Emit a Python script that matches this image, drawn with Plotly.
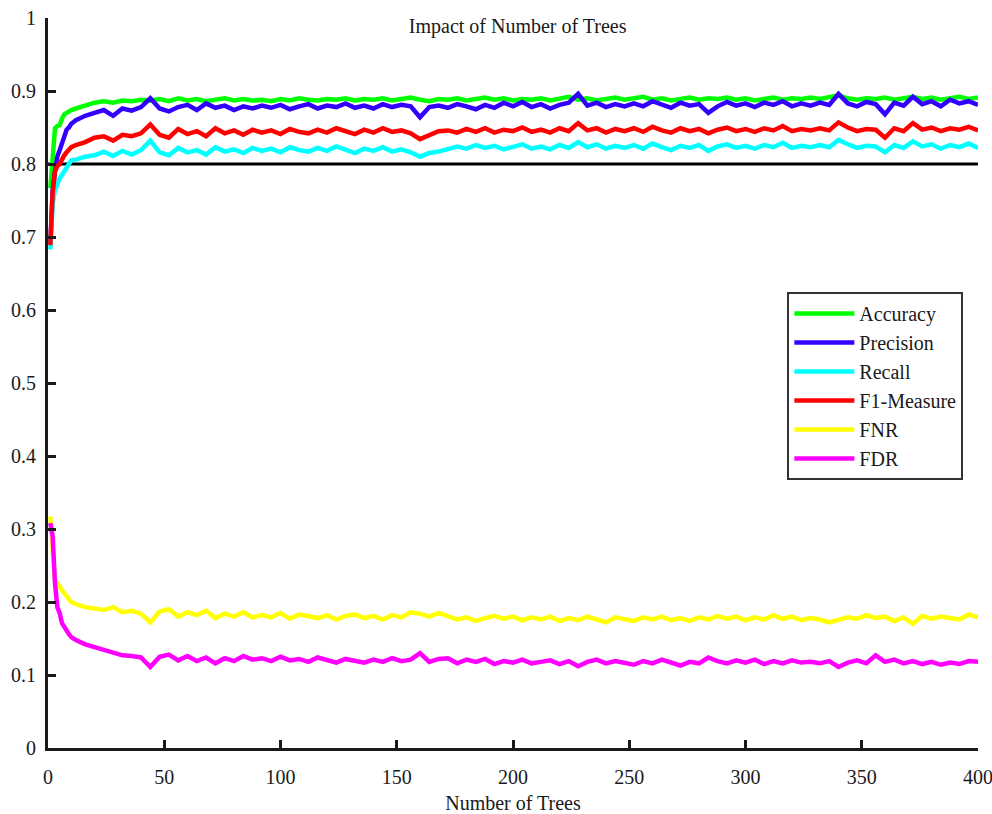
import plotly.graph_objects as go

# Number of trees (sample positions)
trees = [1, 2, 3, 4, 5, 6, 7, 8, 9, 10] + list(range(12, 401, 4))

accuracy = [
    0.767, 0.800, 0.849, 0.852, 0.853, 0.862, 0.868, 0.870, 0.872, 0.874,
    0.876, 0.880, 0.884, 0.886, 0.884, 0.887, 0.886, 0.888, 0.887, 0.889,
    0.886, 0.890, 0.887, 0.889, 0.886, 0.888, 0.890, 0.887, 0.889, 0.887,
    0.888, 0.886, 0.889, 0.887, 0.890, 0.888, 0.887, 0.889, 0.888, 0.890,
    0.887, 0.889, 0.888, 0.890, 0.887, 0.889, 0.891, 0.888, 0.886, 0.889,
    0.888, 0.890, 0.887, 0.889, 0.891, 0.888, 0.890, 0.887, 0.889, 0.888,
    0.890, 0.887, 0.889, 0.892, 0.888, 0.890, 0.887, 0.889, 0.891, 0.888,
    0.890, 0.892, 0.888, 0.890, 0.887, 0.889, 0.891, 0.888, 0.890, 0.889,
    0.891, 0.888, 0.890, 0.887, 0.889, 0.891, 0.888, 0.890, 0.889, 0.891,
    0.889, 0.891, 0.894, 0.890, 0.888, 0.890, 0.889, 0.891, 0.888, 0.890,
    0.892, 0.889, 0.891, 0.888, 0.890, 0.892, 0.889, 0.891,
]

precision = [
    0.690, 0.764, 0.790, 0.810, 0.819, 0.830, 0.838, 0.847, 0.850, 0.855,
    0.860, 0.866, 0.870, 0.874, 0.866, 0.876, 0.873, 0.878, 0.890, 0.876,
    0.872, 0.878, 0.881, 0.874, 0.883, 0.877, 0.880, 0.874, 0.879, 0.876,
    0.880, 0.877, 0.881, 0.875, 0.879, 0.882, 0.876, 0.880, 0.878, 0.883,
    0.877, 0.880, 0.876, 0.882, 0.878, 0.881, 0.879, 0.864, 0.878, 0.880,
    0.877, 0.882, 0.879, 0.875, 0.881, 0.877, 0.884, 0.879, 0.885, 0.878,
    0.882, 0.876, 0.881, 0.884, 0.896, 0.880, 0.884, 0.878, 0.882, 0.879,
    0.883, 0.879, 0.886, 0.881, 0.877, 0.884, 0.880, 0.882, 0.870, 0.879,
    0.885, 0.880, 0.883, 0.878, 0.884, 0.881, 0.886, 0.879, 0.883, 0.880,
    0.884, 0.881, 0.896, 0.883, 0.879, 0.885, 0.882, 0.868, 0.884, 0.880,
    0.892, 0.882, 0.886, 0.879, 0.888, 0.883, 0.886, 0.881,
]

recall = [
    0.683, 0.745, 0.765, 0.774, 0.780, 0.785, 0.790, 0.795, 0.800, 0.805,
    0.806, 0.810, 0.812, 0.817, 0.811, 0.818, 0.813, 0.819, 0.832, 0.816,
    0.812, 0.822, 0.816, 0.819, 0.813, 0.823, 0.817, 0.820, 0.815, 0.822,
    0.818, 0.821, 0.816, 0.823, 0.819, 0.817, 0.822, 0.818, 0.824, 0.819,
    0.815, 0.821, 0.818, 0.823, 0.817, 0.820, 0.816, 0.810, 0.815, 0.817,
    0.820, 0.824, 0.821, 0.826, 0.822, 0.825, 0.820, 0.823, 0.827, 0.821,
    0.824, 0.820, 0.826, 0.822, 0.830, 0.823, 0.827, 0.821, 0.825, 0.822,
    0.826, 0.821, 0.828, 0.823, 0.819, 0.825, 0.822, 0.826, 0.818, 0.824,
    0.827, 0.822, 0.825, 0.821, 0.826, 0.823, 0.829, 0.822, 0.825, 0.823,
    0.826, 0.823, 0.833, 0.827, 0.822, 0.825, 0.824, 0.816, 0.826, 0.822,
    0.831, 0.824, 0.827, 0.821, 0.826, 0.823, 0.828, 0.822,
]

f1_measure = [
    0.689, 0.760, 0.790, 0.797, 0.800, 0.808, 0.812, 0.816, 0.820, 0.823,
    0.826, 0.830, 0.836, 0.838, 0.832, 0.840, 0.838, 0.842, 0.854, 0.840,
    0.836, 0.848, 0.841, 0.845, 0.838, 0.849, 0.842, 0.846, 0.840, 0.847,
    0.843, 0.846, 0.841, 0.848, 0.844, 0.842, 0.847, 0.843, 0.849, 0.845,
    0.841, 0.847, 0.843, 0.849, 0.844, 0.846, 0.842, 0.834, 0.840, 0.845,
    0.846, 0.843, 0.848, 0.844, 0.849, 0.843, 0.847, 0.845, 0.850, 0.844,
    0.847, 0.843, 0.849, 0.845, 0.856, 0.846, 0.849, 0.843, 0.848, 0.845,
    0.849, 0.844, 0.851, 0.846, 0.843, 0.849, 0.845, 0.848, 0.842, 0.847,
    0.850, 0.845, 0.848, 0.844, 0.849, 0.846, 0.852, 0.845, 0.848, 0.846,
    0.849, 0.846, 0.857, 0.850, 0.845, 0.848, 0.847, 0.836, 0.849, 0.845,
    0.856, 0.847, 0.850, 0.845, 0.849, 0.847, 0.851, 0.846,
]

fnr = [
    0.317, 0.260, 0.230, 0.225, 0.222, 0.216, 0.212, 0.208, 0.204, 0.200,
    0.197, 0.193, 0.191, 0.189, 0.193, 0.186, 0.188, 0.184, 0.172, 0.187,
    0.190, 0.180, 0.186, 0.182, 0.188, 0.178, 0.184, 0.180, 0.186, 0.179,
    0.182, 0.179, 0.185, 0.177, 0.183, 0.180, 0.178, 0.182, 0.176, 0.181,
    0.183, 0.178, 0.181, 0.176, 0.182, 0.179, 0.186, 0.184, 0.180, 0.185,
    0.181, 0.176, 0.179, 0.174, 0.178, 0.181, 0.177, 0.180, 0.175, 0.179,
    0.176, 0.180, 0.174, 0.178, 0.175, 0.180, 0.176, 0.172, 0.179, 0.176,
    0.174, 0.179, 0.176, 0.180, 0.175, 0.178, 0.174, 0.179, 0.176, 0.181,
    0.177, 0.180, 0.175, 0.179, 0.176, 0.182, 0.177, 0.180, 0.175, 0.178,
    0.176, 0.172, 0.175, 0.179, 0.177, 0.182, 0.178, 0.180, 0.174, 0.179,
    0.170, 0.181, 0.177, 0.180, 0.178, 0.176, 0.183, 0.179,
]

fdr = [
    0.308, 0.290, 0.226, 0.193, 0.185, 0.171, 0.166, 0.160, 0.156, 0.152,
    0.148, 0.142, 0.138, 0.134, 0.130, 0.127, 0.126, 0.124, 0.111, 0.125,
    0.128, 0.120, 0.126, 0.119, 0.124, 0.116, 0.123, 0.119, 0.126, 0.121,
    0.123, 0.119, 0.125, 0.120, 0.122, 0.118, 0.124, 0.120, 0.117, 0.122,
    0.120, 0.117, 0.121, 0.118, 0.123, 0.119, 0.121, 0.130, 0.118, 0.122,
    0.123, 0.116, 0.121, 0.118, 0.122, 0.115, 0.119, 0.117, 0.121, 0.116,
    0.118, 0.120, 0.115, 0.119, 0.112, 0.118, 0.121, 0.116, 0.119, 0.117,
    0.114, 0.119, 0.116, 0.121, 0.117, 0.113, 0.118, 0.116, 0.124, 0.119,
    0.116, 0.120, 0.117, 0.121, 0.115, 0.119, 0.116, 0.120, 0.117, 0.118,
    0.116, 0.119, 0.111, 0.117, 0.120, 0.116, 0.127, 0.118, 0.121, 0.116,
    0.119, 0.115, 0.118, 0.114, 0.117, 0.115, 0.119, 0.118,
]

series_names = ["Accuracy", "Precision", "Recall", "F1-Measure", "FNR", "FDR"]
series_values = [accuracy, precision, recall, f1_measure, fnr, fdr]
series_colors = ["#00ff00", "#3300ff", "#00ffff", "#ff0000", "#ffff00", "#ff00ff"]

reference_level = 0.8
y_tick_vals = [0, 0.1, 0.2, 0.3, 0.4, 0.5, 0.6, 0.7, 0.8, 0.9, 1]
y_tick_text = ["0", "0.1", "0.2", "0.3", "0.4", "0.5", "0.6", "0.7", "0.8", "0.9", "1"]
x_tick_vals = [0, 50, 100, 150, 200, 250, 300, 350, 400]

FONT = "Liberation Serif, Times New Roman, serif"
TXT = "#1a1a1a"

fig = go.Figure()
fig.add_trace(go.Scatter(
    x=[0, trees[-1]], y=[reference_level, reference_level],
    mode="lines", line=dict(color="black", width=3), showlegend=False,
    hoverinfo="skip",
))
for name, vals, col in zip(series_names, series_values, series_colors):
    fig.add_trace(go.Scatter(x=trees, y=vals, mode="lines", name=name,
                             line=dict(color=col, width=4.5)))

axis_common = dict(
    showgrid=False, zeroline=False, showline=True, linecolor=TXT,
    linewidth=3, ticks="inside", ticklen=8, tickwidth=3, tickcolor=TXT,
    tickfont=dict(family=FONT, size=20, color=TXT), mirror=False,
    ticklabeloverflow="allow", automargin=False,
)

fig.update_layout(
    width=992, height=814,
    margin=dict(l=48, r=14, t=18, b=66),
    paper_bgcolor="white", plot_bgcolor="white",
    font=dict(family=FONT, size=20, color=TXT),
    title=dict(text="Impact of Number of Trees", x=0.505, xref="paper",
               y=1 - 26 / 814, yref="container", yanchor="middle",
               font=dict(family=FONT, size=20, color=TXT)),
    xaxis=dict(range=[0, 400], tickvals=x_tick_vals, title=dict(
        text="Number of Trees", standoff=14, font=dict(family=FONT, size=20)),
        ticklabelstandoff=9, **axis_common),
    yaxis=dict(range=[0, 1], tickvals=y_tick_vals, ticktext=y_tick_text,
               ticklabelstandoff=5, **axis_common),
    legend=dict(x=0.795, y=0.6247, xanchor="left", yanchor="top",
                bgcolor="white", bordercolor="#333333", borderwidth=2,
                font=dict(family=FONT, size=20, color=TXT),
                itemwidth=60),
    showlegend=True,
)

fig.write_html("out.html")
